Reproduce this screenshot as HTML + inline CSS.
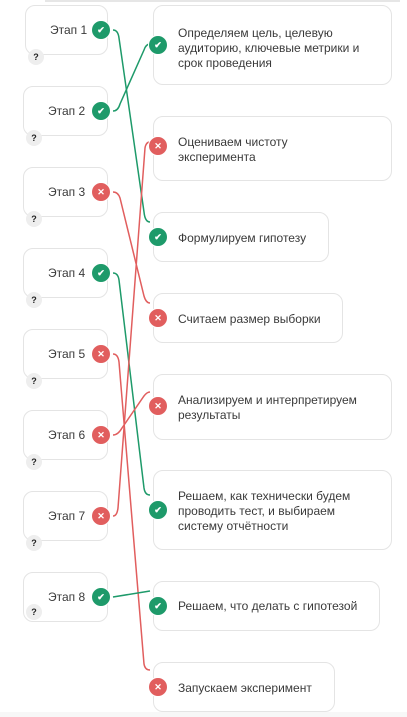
<!DOCTYPE html>
<html><head><meta charset="utf-8"><style>
body{margin:0;width:407px;height:717px;background:#fff;position:relative;overflow:hidden;font-family:"Liberation Sans",sans-serif;}
.b{position:absolute;background:#fff;border:1.5px solid #e4e4e4;border-radius:10px;box-sizing:border-box;}
.l{left:23px;width:85px;height:50px;font-size:12px;color:#3a3a3a;}
.l span{position:absolute;left:24px;top:17px;}
.r{left:153px;font-size:12px;color:#3a3a3a;line-height:15px;}
.r div{position:absolute;left:24px;}
.q{position:absolute;width:16px;height:16px;border-radius:50%;background:#eee;font-size:9px;font-weight:bold;text-align:center;line-height:16px;color:#222;}
.c{position:absolute;width:18px;height:18px;border-radius:50%;border:1.5px solid #fff;color:#fff;font-size:9px;font-weight:bold;text-align:center;line-height:19px;z-index:3;}
.g{background:#1e9a6a;}.x{background:#e15e5e;}
svg{position:absolute;left:0;top:0;z-index:2;}
</style></head><body>
<div style="position:absolute;left:45px;top:0;width:355px;height:2px;background:#e6e6e6"></div>
<div style="position:absolute;left:0;top:712px;width:407px;height:5px;background:#f7f7f7"></div>

<div class="b l" style="top:5px;left:25px;width:83px"><span>Этап 1</span></div>
<div class="b l" style="top:86px"><span>Этап 2</span></div>
<div class="b l" style="top:167px"><span>Этап 3</span></div>
<div class="b l" style="top:248px"><span>Этап 4</span></div>
<div class="b l" style="top:329px"><span>Этап 5</span></div>
<div class="b l" style="top:410px"><span>Этап 6</span></div>
<div class="b l" style="top:491px"><span>Этап 7</span></div>
<div class="b l" style="top:572px"><span>Этап 8</span></div>

<div class="q" style="left:28px;top:49px">?</div>
<div class="q" style="left:26px;top:130px">?</div>
<div class="q" style="left:26px;top:211px">?</div>
<div class="q" style="left:26px;top:292px">?</div>
<div class="q" style="left:26px;top:373px">?</div>
<div class="q" style="left:26px;top:454px">?</div>
<div class="q" style="left:26px;top:535px">?</div>
<div class="q" style="left:26px;top:604px">?</div>

<div class="b r" style="top:5px;width:239px;height:80px"><div style="top:20px">Определяем цель, целевую<br>аудиторию, ключевые метрики и<br>срок проведения</div></div>
<div class="b r" style="top:116px;width:239px;height:65px"><div style="top:18px">Оцениваем чистоту<br>эксперимента</div></div>
<div class="b r" style="top:212px;width:176px;height:50px"><div style="top:18px">Формулируем гипотезу</div></div>
<div class="b r" style="top:293px;width:190px;height:50px"><div style="top:18px">Считаем размер выборки</div></div>
<div class="b r" style="top:374px;width:239px;height:66px"><div style="top:18px">Анализируем и интерпретируем<br>результаты</div></div>
<div class="b r" style="top:470px;width:239px;height:80px"><div style="top:18px">Решаем, как технически будем<br>проводить тест, и выбираем<br>систему отчётности</div></div>
<div class="b r" style="top:581px;width:227px;height:50px"><div style="top:17px">Решаем, что делать с гипотезой</div></div>
<div class="b r" style="top:662px;width:182px;height:50px"><div style="top:18px">Запускаем эксперимент</div></div>

<svg width="407" height="717" fill="none" stroke-width="1.5">
<path d="M113 30 Q118 30 119 38 L144 212 Q145 222 150 222" stroke="#1e9a6a"/>
<path d="M113 111 Q118 111 120 104 L144 50 Q146 44 150 44" stroke="#1e9a6a"/>
<path d="M113 192 Q118 192 120 198 L144 296 Q146 303 150 303" stroke="#e15e5e"/>
<path d="M113 273 Q118 273 119 280 L144 488 Q145 495 150 495" stroke="#1e9a6a"/>
<path d="M113 354 Q118 354 119 362 L144 664 Q145 670 150 670" stroke="#e15e5e"/>
<path d="M113 435 Q118 435 122 428 L144 396 Q147 392 150 392" stroke="#e15e5e"/>
<path d="M113 516 Q117 516 118 508 L145 148 Q146 142 150 142" stroke="#e15e5e"/>
<path d="M113 597 L150 591" stroke="#1e9a6a"/>
</svg>

<div class="c g" style="left:91px;top:20px">✔</div>
<div class="c g" style="left:91px;top:101px">✔</div>
<div class="c x" style="left:91px;top:182px">✕</div>
<div class="c g" style="left:91px;top:263px">✔</div>
<div class="c x" style="left:91px;top:344px">✕</div>
<div class="c x" style="left:91px;top:425px">✕</div>
<div class="c x" style="left:91px;top:506px">✕</div>
<div class="c g" style="left:91px;top:587px">✔</div>

<div class="c g" style="left:148px;top:35px">✔</div>
<div class="c x" style="left:148px;top:136px">✕</div>
<div class="c g" style="left:148px;top:227px">✔</div>
<div class="c x" style="left:148px;top:308px">✕</div>
<div class="c x" style="left:148px;top:396px">✕</div>
<div class="c g" style="left:148px;top:500px">✔</div>
<div class="c g" style="left:148px;top:596px">✔</div>
<div class="c x" style="left:148px;top:677px">✕</div>
</body></html>
